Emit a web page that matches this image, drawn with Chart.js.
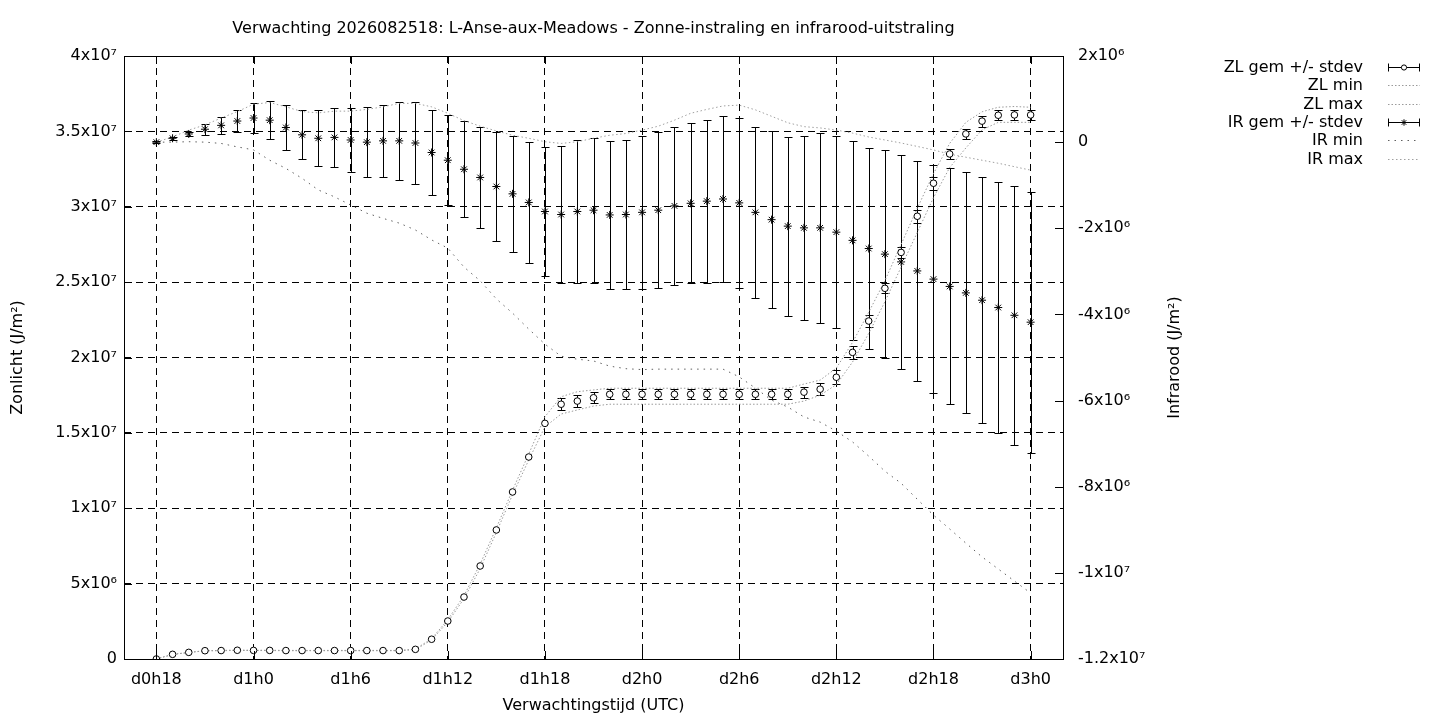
<!DOCTYPE html>
<html><head><meta charset="utf-8">
<script src="https://cdn.jsdelivr.net/npm/chart.js@4.4.1/dist/chart.umd.min.js"></script>
<style>html,body{margin:0;padding:0;background:#fff;}canvas{display:block;}</style>
</head><body>
<canvas id="c" width="1440" height="720"></canvas>
<script>
const chartTitle = 'Verwachting 2026082518: L-Anse-aux-Meadows - Zonne-instraling en infrarood-uitstraling';
const xTitle = 'Verwachtingstijd (UTC)';
const yTitle = 'Zonlicht (J/m²)';
const y2Title = 'Infrarood (J/m²)';

const hours = [18,19,20,21,22,23,24,25,26,27,28,29,30,31,32,33,34,35,36,37,38,39,40,41,42,43,44,45,46,47,48,49,50,51,52,53,54,55,56,57,58,59,60,61,62,63,64,65,66,67,68,69,70,71,72];
const xTickHours = [18,24,30,36,42,48,54,60,66,72];
const xTickLabels = ['d0h18','d1h0','d1h6','d1h12','d1h18','d2h0','d2h6','d2h12','d2h18','d3h0'];
const leftTickValues = [0,5e6,1e7,1.5e7,2e7,2.5e7,3e7,3.5e7,4e7];
const leftTickLabels = ['0','5x10⁶','1x10⁷','1.5x10⁷','2x10⁷','2.5x10⁷','3x10⁷','3.5x10⁷','4x10⁷'];
const rightTickValues = [-1.2e7,-1e7,-8e6,-6e6,-4e6,-2e6,0,2e6];
const rightTickLabels = ['-1.2x10⁷','-1x10⁷','-8x10⁶','-6x10⁶','-4x10⁶','-2x10⁶','0','2x10⁶'];

const zlMean = [0,3.1e5,4.4e5,5.5e5,5.6e5,5.8e5,5.7e5,5.7e5,5.6e5,5.6e5,5.6e5,5.6e5,5.6e5,5.6e5,5.6e5,5.6e5,6.4e5,
  1.31e6,2.52e6,4.11e6,6.17e6,8.56e6,1.108e7,1.34e7,1.563e7,1.69e7,1.711e7,1.733e7,
  1.756e7,1.756e7,1.756e7,1.756e7,1.756e7,1.756e7,1.756e7,1.756e7,1.756e7,1.756e7,1.756e7,1.756e7,
  1.77e7,1.79e7,1.869e7,2.034e7,2.242e7,2.459e7,2.697e7,2.937e7,3.156e7,3.35e7,3.483e7,3.568e7,3.607e7,3.609e7,3.609e7];
const zlSd = [0,0,0,0,0,0,0,0,0,0,0,0,0,0,0,0,0,0,0,0,0,0,0,0,0,
  3.9e5,4.2e5,3.8e5,
  3.4e5,3.4e5,3.4e5,3.4e5,3.4e5,3.4e5,3.4e5,3.4e5,3.4e5,3.4e5,3.4e5,3.4e5,
  3.6e5,4.2e5,4.6e5,4.1e5,4.2e5,3.3e5,3.9e5,4.2e5,4.2e5,3.6e5,3.5e5,3.6e5,3.3e5,3.4e5,3.4e5];
const zlMin = [0,3.0e5,4.3e5,5.4e5,5.5e5,5.7e5,5.6e5,5.6e5,5.5e5,5.5e5,5.5e5,5.5e5,5.5e5,5.5e5,5.5e5,5.5e5,6.2e5,
  1.27e6,2.45e6,4.00e6,6.00e6,8.40e6,1.09e7,1.32e7,1.54e7,1.625e7,1.652e7,1.678e7,
  1.69e7,1.69e7,1.69e7,1.69e7,1.69e7,1.69e7,1.69e7,1.69e7,1.69e7,1.69e7,1.69e7,1.69e7,
  1.711e7,1.75e7,1.82e7,1.97e7,2.16e7,2.37e7,2.60e7,2.83e7,3.06e7,3.26e7,3.39e7,3.51e7,3.56e7,3.56e7,3.56e7];
const zlMax = [0,3.1e5,4.4e5,5.5e5,5.7e5,5.9e5,5.8e5,5.8e5,5.7e5,5.7e5,5.7e5,5.7e5,5.7e5,5.7e5,5.7e5,5.7e5,6.6e5,
  1.35e6,2.60e6,4.20e6,6.30e6,8.70e6,1.12e7,1.36e7,1.607e7,1.74e7,1.773e7,1.785e7,
  1.796e7,1.796e7,1.796e7,1.796e7,1.796e7,1.796e7,1.796e7,1.796e7,1.796e7,1.796e7,1.796e7,1.796e7,
  1.824e7,1.85e7,1.93e7,2.10e7,2.30e7,2.51e7,2.75e7,2.99e7,3.22e7,3.42e7,3.56e7,3.63e7,3.66e7,3.665e7,3.66e7];

const irMean = [0,9e4,1.9e5,3.0e5,3.9e5,4.9e5,5.6e5,5.1e5,3.4e5,1.7e5,9e4,1.1e5,5e4,0,3e4,3e4,-2e4,
  -2.4e5,-4.2e5,-6.3e5,-8.2e5,-1.03e6,-1.20e6,-1.40e6,-1.61e6,-1.68e6,-1.61e6,
  -1.58e6,-1.69e6,-1.68e6,-1.63e6,-1.58e6,-1.48e6,-1.42e6,-1.37e6,-1.32e6,-1.41e6,
  -1.63e6,-1.80e6,-1.95e6,-1.99e6,-1.99e6,-2.09e6,-2.28e6,-2.47e6,-2.60e6,-2.78e6,
  -2.99e6,-3.18e6,-3.35e6,-3.50e6,-3.67e6,-3.84e6,-4.02e6,-4.18e6];
const irSd = [2e4,3e4,5e4,1.3e5,2.0e5,2.6e5,3.4e5,4.4e5,5.2e5,5.7e5,6.5e5,6.8e5,7.5e5,8.1e5,8.4e5,9.0e5,9.6e5,
  9.9e5,1.05e6,1.11e6,1.18e6,1.27e6,1.35e6,1.40e6,1.50e6,1.60e6,1.65e6,1.68e6,1.71e6,1.74e6,1.77e6,
  1.81e6,1.83e6,1.86e6,1.89e6,1.92e6,1.97e6,1.99e6,2.05e6,2.08e6,2.13e6,2.20e6,2.23e6,2.31e6,2.34e6,
  2.41e6,2.48e6,2.56e6,2.64e6,2.74e6,2.80e6,2.86e6,2.92e6,3.00e6,3.03e6];
const irMin = [0,0,1e4,0,-3e4,-1.1e5,-1.8e5,-4.2e5,-6.1e5,-8.4e5,
  -1.11e6,-1.27e6,-1.46e6,-1.65e6,-1.77e6,-1.88e6,-2.04e6,-2.27e6,-2.46e6,-2.90e6,
  -3.22e6,-3.64e6,-3.97e6,-4.34e6,-4.69e6,-4.97e6,-5.04e6,-5.08e6,-5.20e6,-5.26e6,
  -5.28e6,-5.27e6,-5.27e6,-5.27e6,-5.27e6,-5.27e6,-5.45e6,-5.71e6,-5.99e6,-6.15e6,
  -6.38e6,-6.50e6,-6.71e6,-6.96e6,-7.29e6,-7.64e6,-7.92e6,-8.29e6,-8.66e6,-8.98e6,
  -9.31e6,-9.63e6,-9.91e6,-10.19e6,-10.47e6];
const irMax = [0,1.2e5,2.8e5,4.0e5,5.6e5,7.1e5,8.8e5,9.2e5,8.2e5,7.1e5,
  6.8e5,7.2e5,7.2e5,7.6e5,8.2e5,9.0e5,9.0e5,8.2e5,6.7e5,5.0e5,
  3.7e5,2.6e5,1.6e5,9e4,1e4,-3e4,1e4,9e4,1.6e5,2.0e5,
  2.8e5,3.7e5,5.1e5,6.7e5,7.6e5,8.4e5,8.6e5,7.5e5,6.0e5,4.5e5,
  3.6e5,3.3e5,2.8e5,2.1e5,1.2e5,5e4,-2e4,-1.0e5,-1.8e5,-2.8e5,
  -3.5e5,-4.2e5,-4.9e5,-5.7e5,-6.5e5];

const legendLabels = ['ZL gem +/- stdev','ZL min','ZL max','IR gem +/- stdev','IR min','IR max'];

const FONT = 'DejaVu Sans';
const FS = 16;
Chart.defaults.font.family = FONT;
Chart.defaults.font.size = FS;
Chart.defaults.color = '#000';

const pts = arr => hours.map((h, i) => ({x: h, y: arr[i]}));

const styles = {
  zlMin: {color: '#9a9a9a', dash: [1.5, 2]},
  zlMax: {color: '#9a9a9a', dash: [1.5, 2]},
  irMin: {color: '#606060', dash: [1.5, 5]},
  irMax: {color: '#a0a0a0', dash: [1.5, 2.5]}
};

const datasets = [
  {label: legendLabels[0], data: pts(zlMean), yAxisID: 'y', showLine: false,
   pointStyle: 'circle', pointRadius: 3.3, borderColor: '#000', backgroundColor: '#fff', borderWidth: 1},
  {label: legendLabels[1], data: pts(zlMin), yAxisID: 'y', showLine: true, pointRadius: 0,
   borderColor: styles.zlMin.color, borderDash: styles.zlMin.dash, borderWidth: 1, tension: 0, fill: false},
  {label: legendLabels[2], data: pts(zlMax), yAxisID: 'y', showLine: true, pointRadius: 0,
   borderColor: styles.zlMax.color, borderDash: styles.zlMax.dash, borderWidth: 1, tension: 0, fill: false},
  {label: legendLabels[3], data: pts(irMean), yAxisID: 'y2', showLine: false,
   pointStyle: 'star', pointRadius: 4, borderColor: '#000', backgroundColor: '#000', borderWidth: 1},
  {label: legendLabels[4], data: pts(irMin), yAxisID: 'y2', showLine: true, pointRadius: 0,
   borderColor: styles.irMin.color, borderDash: styles.irMin.dash, borderWidth: 1, tension: 0, fill: false},
  {label: legendLabels[5], data: pts(irMax), yAxisID: 'y2', showLine: true, pointRadius: 0,
   borderColor: styles.irMax.color, borderDash: styles.irMax.dash, borderWidth: 1, tension: 0, fill: false}
];

const decor = {
  id: 'decor',
  beforeDatasetsDraw(chart) {
    const ctx = chart.ctx, xs = chart.scales.x;
    const bars = (mean, sd, ys) => {
      ctx.save();
      ctx.strokeStyle = '#000'; ctx.lineWidth = 1; ctx.setLineDash([]);
      for (let i = 0; i < hours.length; i++) {
        if (!sd[i]) continue;
        const x = Math.round(xs.getPixelForValue(hours[i])) + 0.5;
        const y1 = Math.round(ys.getPixelForValue(mean[i] - sd[i])) + 0.5;
        const y2 = Math.round(ys.getPixelForValue(mean[i] + sd[i])) + 0.5;
        ctx.beginPath();
        ctx.moveTo(x, y1); ctx.lineTo(x, y2);
        ctx.moveTo(x - 4, y1); ctx.lineTo(x + 4, y1);
        ctx.moveTo(x - 4, y2); ctx.lineTo(x + 4, y2);
        ctx.stroke();
      }
      ctx.restore();
    };
    bars(zlMean, zlSd, chart.scales.y);
    bars(irMean, irSd, chart.scales.y2);
  },
  afterDraw(chart) {
    const ctx = chart.ctx, a = chart.chartArea;
    const xs = chart.scales.x, ys = chart.scales.y, y2s = chart.scales.y2;
    ctx.save();
    ctx.setLineDash([]);
    ctx.strokeStyle = '#000'; ctx.lineWidth = 1;
    ctx.strokeRect(Math.round(a.left) + 0.5, Math.round(a.top) + 0.5, Math.round(a.right - a.left), Math.round(a.bottom - a.top));
    ctx.beginPath();
    xTickHours.forEach(v => {
      const x = Math.round(xs.getPixelForValue(v)) + 0.5;
      ctx.moveTo(x, a.bottom); ctx.lineTo(x, a.bottom - 8);
      ctx.moveTo(x, a.top); ctx.lineTo(x, a.top + 8);
    });
    leftTickValues.forEach(v => {
      const y = Math.round(ys.getPixelForValue(v)) + 0.5;
      ctx.moveTo(a.left, y); ctx.lineTo(a.left + 8, y);
    });
    rightTickValues.forEach(v => {
      const y = Math.round(y2s.getPixelForValue(v)) + 0.5;
      ctx.moveTo(a.right, y); ctx.lineTo(a.right - 8, y);
    });
    ctx.stroke();
    ctx.fillStyle = '#000';
    ctx.font = FS + 'px "' + FONT + '"';
    ctx.textAlign = 'center'; ctx.textBaseline = 'middle';
    ctx.fillText(chartTitle, (a.left + a.right) / 2, 29);
    ctx.save();
    ctx.translate(1175, (a.top + a.bottom) / 2);
    ctx.rotate(-Math.PI / 2);
    ctx.fillText(y2Title, 0, 0);
    ctx.restore();
    const tx = 1363, s0 = 1388, s1 = 1420;
    legendLabels.forEach((lab, i) => {
      const y = Math.round(67 + 18.3 * i) + 0.5;
      ctx.fillStyle = '#000';
      ctx.textAlign = 'right'; ctx.textBaseline = 'middle';
      ctx.fillText(lab, tx, y);
      const ds = chart.data.datasets[i];
      if (i === 0 || i === 3) {
        ctx.strokeStyle = '#000'; ctx.setLineDash([]);
        ctx.beginPath();
        ctx.moveTo(s0, y); ctx.lineTo(s1, y);
        ctx.moveTo(s0 + 0.5, y - 4); ctx.lineTo(s0 + 0.5, y + 4);
        ctx.moveTo(s1 - 0.5, y - 4); ctx.lineTo(s1 - 0.5, y + 4);
        ctx.stroke();
        const cx = (s0 + s1) / 2;
        if (i === 0) {
          ctx.fillStyle = '#fff'; ctx.strokeStyle = '#000';
          ctx.beginPath(); ctx.arc(cx, y, 2.6, 0, Math.PI * 2); ctx.fill(); ctx.stroke();
        } else {
          Chart.helpers.drawPoint(ctx, {pointStyle: 'star', radius: 3.2, borderWidth: 1, rotation: 0}, cx, y);
        }
      } else {
        ctx.strokeStyle = ds.borderColor; ctx.setLineDash(ds.borderDash);
        ctx.beginPath(); ctx.moveTo(s0, y); ctx.lineTo(s1, y); ctx.stroke();
        ctx.setLineDash([]);
      }
    });
    ctx.restore();
  }
};

new Chart(document.getElementById('c'), {
  type: 'scatter',
  data: {datasets},
  options: {
    responsive: false,
    animation: false,
    devicePixelRatio: 1,
    layout: {padding: {top: 56, right: 256, bottom: 0, left: 0}},
    plugins: {legend: {display: false}, tooltip: {enabled: false}, title: {display: false}},
    scales: {
      x: {
        type: 'linear', position: 'bottom', min: 16, max: 74,
        afterBuildTicks: s => { s.ticks = xTickHours.map(v => ({value: v})); },
        afterFit: s => { s.height = 61; },
        ticks: {autoSkip: false, maxRotation: 0, padding: 11, color: '#000',
                callback: (v, i) => xTickLabels[i]},
        grid: {color: '#000', lineWidth: 1, drawTicks: false},
        border: {display: false, dash: [7, 5]},
        title: {display: true, text: xTitle, padding: {top: 0, bottom: 5}, color: '#000'}
      },
      y: {
        type: 'linear', position: 'left', min: 0, max: 4e7,
        afterBuildTicks: s => { s.ticks = leftTickValues.map(v => ({value: v})); },
        afterFit: s => { s.width = 124; },
        ticks: {padding: 7, color: '#000', callback: (v, i) => leftTickLabels[i]},
        grid: {color: '#000', lineWidth: 1, drawTicks: false},
        border: {display: false, dash: [7, 5]},
        title: {display: true, text: yTitle, padding: {top: 8, bottom: 0}, color: '#000'}
      },
      y2: {
        type: 'linear', position: 'right', min: -1.2e7, max: 2e6,
        afterBuildTicks: s => { s.ticks = rightTickValues.map(v => ({value: v})); },
        afterFit: s => { s.width = 121; },
        ticks: {padding: 15, color: '#000', callback: (v, i) => rightTickLabels[i]},
        grid: {display: false, drawTicks: false},
        border: {display: false},
        title: {display: false, text: y2Title}
      }
    }
  },
  plugins: [decor]
});
</script>
</body></html>
